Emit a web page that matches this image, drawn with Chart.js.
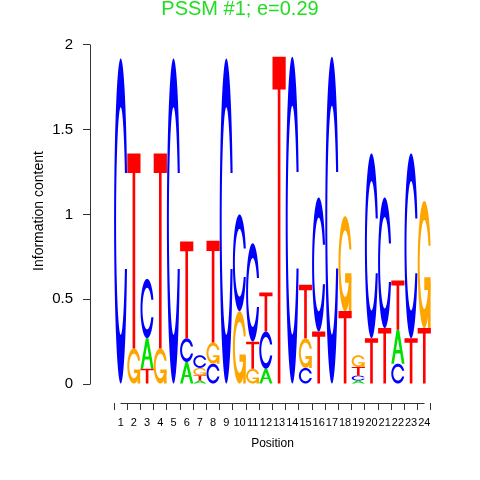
<!DOCTYPE html>
<html>
<head>
<meta charset="utf-8">
<title>PSSM logo</title>
<script src="https://cdn.jsdelivr.net/npm/chart.js@4.4.1/dist/chart.umd.min.js"></script>
<style>
  html, body { margin: 0; padding: 0; background: #fff; }
  #wrap { width: 480px; height: 480px; }
</style>
</head>
<body>
<div id="wrap"><canvas id="logo" width="480" height="480"></canvas></div>
<script>
// motif positions
const positions = [1, 2, 3, 4, 5, 6, 7, 8, 9, 10, 11, 12, 13, 14, 15, 16, 17, 18, 19, 20, 21, 22, 23, 24];

// information content (bits) of each base at each position
const bitsA = [0, 0, 0.18, 0, 0, 0.13, 0.02, 0, 0, 0, 0, 0.09, 0, 0, 0, 0, 0, 0, 0.02, 0, 0, 0.20, 0, 0];
const bitsC = [1.92, 0, 0.35, 0, 1.92, 0.14, 0.075, 0.12, 1.92, 0.57, 0.58, 0.22, 0, 1.93, 0.095, 0.79, 1.93, 0, 0.03, 1.09, 0.77, 0.12, 1.09, 0];
const bitsG = [0, 0.21, 0, 0.21, 0, 0, 0.045, 0.125, 0, 0.43, 0.09, 0, 0, 0, 0.175, 0, 0, 0.56, 0.07, 0, 0, 0, 0, 0.75];
const bitsT = [0, 1.15, 0.09, 1.15, 0, 0.57, 0.03, 0.6, 0, 0, 0.16, 0.23, 1.93, 0, 0.315, 0.31, 0, 0.43, 0.05, 0.27, 0.33, 0.29, 0.27, 0.33];

const yTicks = [0, 0.5, 1, 1.5, 2];

const letters = ['A', 'C', 'G', 'T'];
const letterBits = { A: bitsA, C: bitsC, G: bitsG, T: bitsT };
const letterColors = { A: '#00E000', C: '#0000FF', G: '#FFA500', T: '#FF0000' };

Chart.defaults.font.family = '"Liberation Sans", Arial, Helvetica, sans-serif';
Chart.defaults.color = '#000';

// stack letters per column, smallest at the bottom
const ranges = { A: [], C: [], G: [], T: [] };
positions.forEach((p, i) => {
  const col = letters.map(l => ({ l, v: letterBits[l][i] }))
    .sort((a, b) => a.v - b.v);
  let acc = 0;
  col.forEach(({ l, v }) => {
    ranges[l][i] = [acc, acc + v];
    acc += v;
  });
});

// letter outlines in a unit box (y going up), same shapes as the R logo
function ringOutline() {
  const n = 100;
  const a1 = [], a2 = [];
  for (let i = 0; i < n; i++) {
    a1.push(0.3 + Math.PI / 2 + (Math.PI / 2 - 0.3) * i / (n - 1));
    a2.push(Math.PI + (Math.PI / 2) * i / (n - 1));
  }
  const aAll = a1.concat(a2);
  const xl = aAll.map(a => 0.5 + 0.5 * Math.sin(a));
  const yl = aAll.map(a => 0.5 + 0.5 * Math.cos(a));
  const xo = xl.concat(xl.slice().reverse());
  const yo = yl.concat(yl.slice().reverse().map(v => 1 - v));

  const yMax1 = 0.5 + 0.5 * Math.cos(a1[0]);
  let xi1 = a1.map(a => 0.5 + 0.35 * Math.sin(a));
  let yi1 = a1.map(a => 0.5 + 0.35 * Math.cos(a));
  const keep = yi1.map(v => v <= yMax1);
  xi1 = xi1.filter((_, i) => keep[i]);
  yi1 = yi1.filter((_, i) => keep[i]);
  yi1[0] = yMax1;
  const xi = xi1.concat(a2.map(a => 0.5 + 0.35 * Math.sin(a)));
  const yi = yi1.concat(a2.map(a => 0.5 + 0.35 * Math.cos(a)));
  const xin = xi.concat(xi.slice().reverse());
  const yin = yi.concat(yi.slice().reverse().map(v => 1 - v));

  const pts = xo.map((x, i) => [x, yo[i]]);
  for (let i = xin.length - 1; i >= 0; i--) pts.push([xin[i], yin[i]]);
  return { pts, r1: Math.max(...xl.slice(0, n)) };
}

const ring = ringOutline();
const shapes = {
  A: [[[0, 0], [0.4, 1], [0.6, 1], [1, 0], [0.8, 0], [0.68, 0.3], [0.32, 0.3], [0.2, 0]],
      [[0.36, 0.4], [0.5, 0.75], [0.64, 0.4]]],
  C: [ring.pts],
  G: [ring.pts,
      [[ring.r1, 0.4], [0.5, 0.4], [0.5, 0.3], [ring.r1 - 0.2, 0.3], [ring.r1 - 0.2, 0], [ring.r1, 0]]],
  T: [[[0, 1], [1, 1], [1, 0.9], [0.6, 0.9], [0.6, 0], [0.4, 0], [0.4, 0.9], [0, 0.9]]]
};

function drawLetter(ctx, letter, left, bottom, w, h, color) {
  ctx.save();
  ctx.fillStyle = color;
  const polys = shapes[letter];
  if (letter === 'A') {
    // triangle counter cut out
    ctx.beginPath();
    polys.forEach(poly => {
      poly.forEach(([px, py], k) => {
        const X = left + px * w, Y = bottom - py * h;
        if (k === 0) ctx.moveTo(X, Y); else ctx.lineTo(X, Y);
      });
      ctx.closePath();
    });
    ctx.fill('evenodd');
  } else {
    polys.forEach(poly => {
      ctx.beginPath();
      poly.forEach(([px, py], k) => {
        const X = left + px * w, Y = bottom - py * h;
        if (k === 0) ctx.moveTo(X, Y); else ctx.lineTo(X, Y);
      });
      ctx.closePath();
      ctx.fill();
    });
  }
  ctx.restore();
}

const logoPlugin = {
  id: 'logoLetters',
  afterDatasetsDraw(chart) {
    const ctx = chart.ctx;
    chart.data.datasets.forEach((ds, di) => {
      const meta = chart.getDatasetMeta(di);
      meta.data.forEach(bar => {
        const { x, y, base, width } = bar.getProps(['x', 'y', 'base', 'width'], true);
        const top = Math.min(y, base), bottom = Math.max(y, base);
        if (bottom - top < 0.3) return;
        drawLetter(ctx, ds.label, x - width / 2, bottom, width, bottom - top, letterColors[ds.label]);
      });
    });
  },
  afterDraw(chart) {
    // R style axis lines: only between the outer ticks
    const { ctx, chartArea, scales: { x, y } } = chart;
    ctx.save();
    ctx.strokeStyle = '#333';
    ctx.lineWidth = 1;
    ctx.beginPath();
    const ax = Math.round(chartArea.left - 0.5) + 0.5;
    ctx.moveTo(ax, Math.round(y.getPixelForValue(yTicks[0]) - 0.5) + 0.5);
    ctx.lineTo(ax, Math.round(y.getPixelForValue(yTicks[yTicks.length - 1]) - 0.5) + 0.5);
    const ay = Math.round(chartArea.bottom - 0.5) + 0.5;
    ctx.moveTo(Math.round(x.getPixelForValue(positions[0]) - 0.5) + 0.5, ay);
    ctx.lineTo(Math.round(x.getPixelForValue(positions[positions.length - 1]) - 0.5) + 0.5, ay);
    ctx.stroke();
    ctx.restore();
  }
};

const datasets = letters.map(l => ({
  label: l,
  data: positions.map((p, i) => ({ x: p, y: ranges[l][i] })),
  backgroundColor: 'rgba(0,0,0,0)',
  borderWidth: 0,
  grouped: false,
  barPercentage: 1,
  categoryPercentage: 1
}));

new Chart(document.getElementById('logo'), {
  type: 'bar',
  data: { datasets },
  options: {
    responsive: false,
    animation: false,
    layout: { padding: { top: 0, right: 25, bottom: 0, left: 25 } },
    plugins: {
      legend: { display: false },
      tooltip: { enabled: false },
      title: {
        display: true,
        text: 'PSSM #1; e=0.29',
        color: '#22DD22',
        font: { size: 20, weight: 'normal', lineHeight: 0.95 },
        padding: 0
      }
    },
    scales: {
      x: {
        type: 'linear',
        min: -0.75,
        max: 25.75,
        afterBuildTicks: s => { s.ticks = positions.map(v => ({ value: v })); },
        afterFit: s => { s.height = 77; },
        ticks: { autoSkip: false, maxRotation: 0, font: { size: 11 }, padding: 6, callback: v => String(v) },
        grid: { drawOnChartArea: false, tickLength: 7, color: '#333' },
        border: { display: false },
        title: {
          display: true,
          text: 'Position',
          font: { size: 12 },
          padding: { top: 0, bottom: 29 }
        }
      },
      y: {
        type: 'linear',
        min: -0.112,
        max: 2.153,
        afterBuildTicks: s => { s.ticks = yTicks.map(v => ({ value: v })); },
        afterFit: s => { s.width = 65; },
        ticks: { font: { size: 15 }, padding: 10, callback: v => String(v) },
        grid: { drawOnChartArea: false, tickLength: 7, color: '#333' },
        border: { display: false },
        title: {
          display: true,
          text: 'Information content',
          font: { size: 14 },
          padding: { top: 6, bottom: 0 }
        }
      }
    }
  },
  plugins: [logoPlugin]
});
</script>
</body>
</html>
